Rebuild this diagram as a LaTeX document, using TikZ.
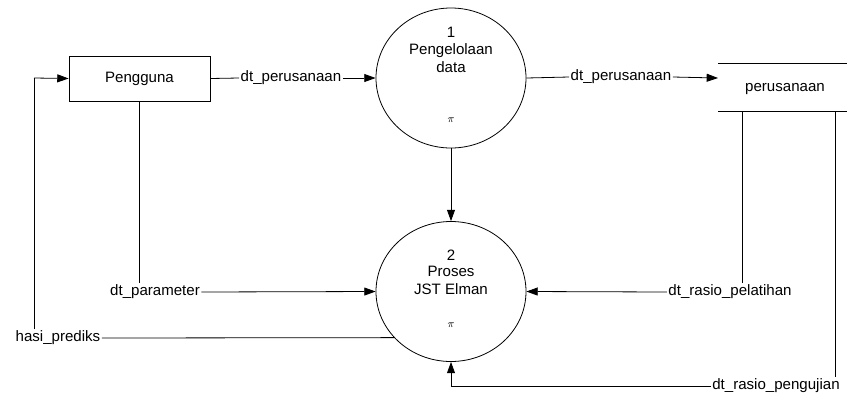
\documentclass[tikz,border=0pt]{standalone}
\usepackage{fontspec}
\setmainfont{Liberation Sans}
\usetikzlibrary{arrows.meta,shapes.geometric}
\begin{document}
\begin{tikzpicture}[x=0.75pt,y=-0.75pt,
  every node/.style={font=\fontsize{11.3}{13}\selectfont, inner sep=1pt},
  line/.style={draw, line width=0.6pt},
  flow/.style={line, -{Triangle[length=8.5pt,width=6pt]}},
  proc/.style={draw, line width=0.6pt, ellipse, minimum width=150*0.75pt, minimum height=140*0.75pt, inner sep=0pt},
  ext/.style={draw, line width=0.6pt, minimum width=141*0.75pt, minimum height=45*0.75pt, inner sep=0pt},
  procmark/.style={font=\fontsize{8}{8}\selectfont}]
\useasboundingbox (0,0) rectangle (847,394);
% external entity
\node[ext] (user) at (139.5,78.5) {Pengguna};
% processes
\node[proc] (p1) at (451,78) {};
\node[proc] (p2) at (451,291.5) {};
\node (p1n) at (451,32) {1};
\node (p1t) at (451,60) {\begin{tabular}{@{}c@{}}Pengelolaan\\[1pt] data\end{tabular}};
\node[procmark] (p1m) at (451,120) {$\pi$};
\node (p2n) at (451,255) {2};
\node (p2t) at (451,282) {\begin{tabular}{@{}c@{}}Proses\\[1pt] JST Elman\end{tabular}};
\node[procmark] (p2m) at (451,325) {$\pi$};
% data store
\coordinate (dsTL) at (718,63);
\coordinate (dsTR) at (847,63);
\coordinate (dsBL) at (718,111);
\coordinate (dsBR) at (847,111);
\draw[line] (dsTL) -- (dsTR);
\draw[line] (dsBL) -- (dsBR);
\node (ds) at (785,89) {perusanaan};
% user -> p1
\node (l1) at (291,78) {dt\_perusanaan};
\draw[line] (user.east) -- (l1.west);
\draw[flow] (l1.east) -- (p1.west);
% p1 -> store
\node (l2) at (621,77) {dt\_perusanaan};
\draw[line] (p1.east) -- (l2.west);
\coordinate (dsIn) at (718,78);
\draw[flow] (l2.east) -- (dsIn);
% p1 -> p2
\draw[flow] (p1.south) -- (p2.north);
% user -> p2 (parameter)
\node (l3) at (155,292) {dt\_parameter};
\draw[line] (user.south) -- (user.south |- l3.north);
\draw[flow] (l3.east) -- (p2.west);
% store -> p2 (pelatihan)
\node (l4) at (730,292) {dt\_rasio\_pelatihan};
\coordinate (s1) at (742,111);
\draw[line] (s1) -- (s1 |- l4.north);
\draw[flow] (l4.west) -- (p2.east);
% store -> p2 (pengujian)
\node (l5) at (776,386) {dt\_rasio\_pengujian};
\coordinate (s2) at (835,111);
\draw[line] (s2) -- (s2 |- l5.north);
\draw[flow] (l5.west) -| (p2.south);
% p2 -> user (prediksi)
\node (l6) at (58,338) {hasi\_prediks};
\coordinate (c6) at (34,78);
\draw[line] (p2.-141) -- (l6.east);
\draw[line] (l6.north -| c6) -- (c6);
\draw[flow] (c6) -- (user.west);
\end{tikzpicture}
\end{document}
